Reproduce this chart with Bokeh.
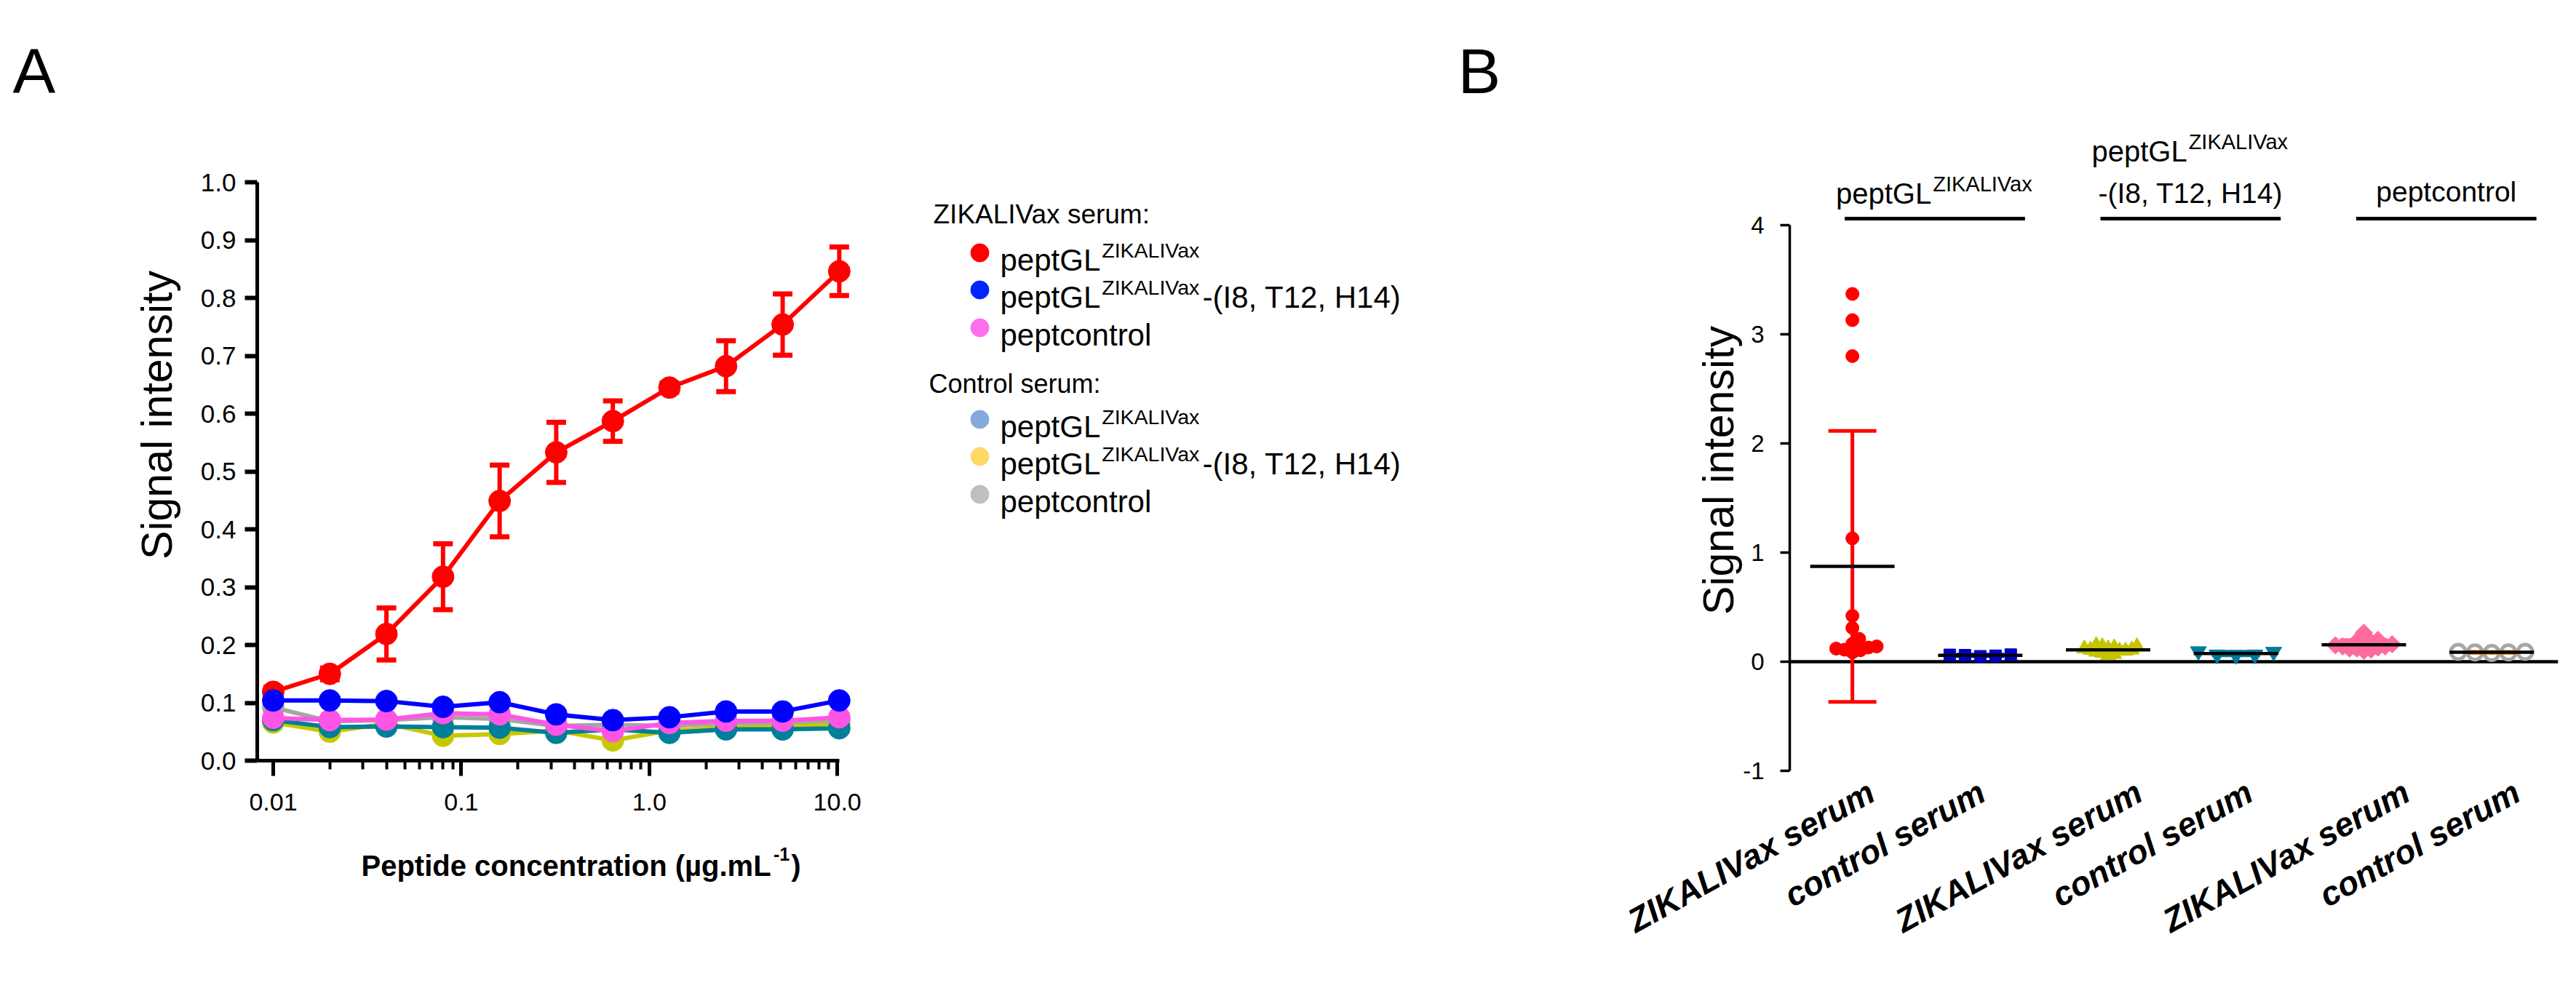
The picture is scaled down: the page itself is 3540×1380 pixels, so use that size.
import math
import numpy as np
from bokeh.plotting import figure
from bokeh.models import Range1d, FixedTicker, CustomJSTickFormatter, PrintfTickFormatter
from bokeh.layouts import row, column
from bokeh.core.properties import value
from bokeh.embed import file_html
from bokeh.resources import INLINE

FONT = "Liberation Sans"

# ---------------- Panel A data ----------------
conc = [0.01, 0.02, 0.04, 0.08, 0.16, 0.32, 0.64, 1.28, 2.56, 5.12, 10.24]
zik_peptGL = [0.119, 0.150, 0.219, 0.318, 0.449, 0.533, 0.587, 0.645, 0.682, 0.754, 0.846]
zik_peptGL_err = [0.008, 0.010, 0.045, 0.057, 0.062, 0.052, 0.035, 0.008, 0.044, 0.053, 0.042]
zik_mut = [0.104, 0.104, 0.103, 0.093, 0.101, 0.080, 0.070, 0.075, 0.085, 0.085, 0.104]
zik_ctrl = [0.074, 0.070, 0.071, 0.082, 0.080, 0.062, 0.051, 0.065, 0.069, 0.069, 0.075]
ctl_peptGL = [0.070, 0.058, 0.059, 0.058, 0.057, 0.048, 0.054, 0.048, 0.054, 0.054, 0.056]
ctl_mut = [0.066, 0.050, 0.064, 0.043, 0.046, 0.052, 0.035, 0.052, 0.058, 0.059, 0.064]
ctl_ctrl = [0.092, 0.068, 0.070, 0.075, 0.072, 0.060, 0.062, 0.060, 0.065, 0.066, 0.070]
x_major = [0.01, 0.1, 1.0, 10.0]
x_minor = [0.02, 0.03, 0.04, 0.05, 0.06, 0.07, 0.08, 0.09,
           0.2, 0.3, 0.4, 0.5, 0.6, 0.7, 0.8, 0.9,
           2, 3, 4, 5, 6, 7, 8, 9]
y_ticks_a = [0.0, 0.1, 0.2, 0.3, 0.4, 0.5, 0.6, 0.7, 0.8, 0.9, 1.0]

# ---------------- Panel B data ----------------
b_labels = ["ZIKALIVax serum", "control serum", "ZIKALIVax serum",
            "control serum", "ZIKALIVax serum", "control serum"]
b_g1 = [3.37, 3.13, 2.80, 1.13, 0.42, 0.31, 0.21, 0.165, 0.14, 0.13, 0.12, 0.11, 0.105, 0.085]
b_g2 = [0.065, 0.060, 0.050, 0.055, 0.063]
b_g3 = [0.15, 0.14, 0.14, 0.13, 0.12, 0.12, 0.11, 0.11, 0.10, 0.10, 0.09, 0.08, 0.07, 0.06]
b_g4 = [0.095, 0.065, 0.060, 0.065, 0.090]
b_g5 = [0.265, 0.20, 0.19, 0.18, 0.17, 0.16, 0.15, 0.14, 0.14, 0.13, 0.12, 0.12, 0.11, 0.10]
b_g6 = [0.090, 0.085, 0.080, 0.085, 0.090]
b_groups = [b_g1, b_g2, b_g3, b_g4, b_g5, b_g6]
b_ticks = [-1, 0, 1, 2, 3, 4]

# ---------------- text metrics (Arial / Liberation Sans) ----------------
W_REG = {' ': 278, '(': 333, ')': 333, ',': 278, '-': 333, '.': 278, ':': 278,
         '1': 556, '2': 556, '4': 556, '8': 556,
         'A': 667, 'C': 722, 'G': 778, 'H': 722, 'I': 278, 'K': 667, 'L': 556,
         'T': 611, 'V': 667, 'Z': 611, 'S': 667,
         'a': 556, 'c': 500, 'e': 556, 'l': 222, 'm': 833, 'n': 556, 'o': 556,
         'p': 556, 'r': 333, 's': 500, 't': 278, 'u': 556, 'x': 500, 'g': 556,
         'i': 222, 'y': 500}
W_BOLD = {' ': 278, '(': 333, ')': 333, '.': 278, '-': 333, '1': 556, 'P': 667,
          'L': 611, 'a': 556, 'c': 556, 'd': 611, 'e': 556, 'g': 611, 'i': 278,
          'm': 889, 'n': 611, 'o': 611, 'p': 611, 'r': 389, 't': 333, '\u00b5': 611}


def text_width(s, size, bold=False):
    tbl = W_BOLD if bold else W_REG
    return sum(tbl.get(ch, 556) for ch in s) * size / 1000.0


def rich(fig, x, y, parts, bold=False, align="left", sx=1.0, sy=1.0, gap=2.0, color="black"):
    widths = [text_width(t, s, bold) for t, s, r in parts]
    total = sum(widths) + gap * (len(parts) - 1)
    cur = x - total / 2.0 * sx if align == "center" else x
    for (t, s, r), w in zip(parts, widths):
        fig.text(x=[cur], y=[y + r * sy], text=[t], text_font=value(FONT),
                 text_font_size=value(f"{s}px"),
                 text_font_style="bold" if bold else "normal",
                 text_align="left", text_baseline="alphabetic", text_color=color)
        cur += (w + gap) * sx


def canvas(w, h, xr, yr, bl=0, br=0):
    p = figure(width=w, height=h, x_range=Range1d(*xr), y_range=Range1d(*yr),
               output_backend="svg", toolbar_location=None,
               min_border_left=bl, min_border_right=br, min_border_top=0, min_border_bottom=0,
               x_axis_type=None, y_axis_type=None)
    p.title.visible = False
    p.outline_line_color = None
    return p

# ================= Panel A =================
figA = figure(width=988, height=1147, x_axis_type="log",
              x_range=Range1d(0.008222, 13.28), y_range=Range1d(0, 1.0),
              output_backend="svg", toolbar_location=None,
              min_border_left=101, min_border_right=58, min_border_top=250, min_border_bottom=102)
figA.title.visible = False
figA.grid.visible = False
figA.outline_line_color = None

xa = figA.xaxis[0]
xa.ticker = FixedTicker(ticks=x_major, minor_ticks=x_minor)
xa.formatter = CustomJSTickFormatter(code="return tick < 0.05 ? tick.toFixed(2) : tick.toFixed(1);")
xa.bounds = (0.008222, 10.3)
xa.axis_line_width = 5
xa.major_tick_line_width = 5
xa.minor_tick_line_width = 4
xa.major_tick_out = 21
xa.major_tick_in = 0
xa.minor_tick_out = 12
xa.minor_tick_in = 0
xa.major_label_standoff = 24
xa.major_label_text_font = FONT
xa.major_label_text_font_size = "34px"
xa.major_label_text_color = "black"

ya = figA.yaxis[0]
ya.ticker = FixedTicker(ticks=y_ticks_a)
ya.formatter = PrintfTickFormatter(format="%.1f")
ya.axis_line_width = 5
ya.major_tick_line_width = 6
ya.major_tick_out = 17
ya.major_tick_in = 0
ya.minor_tick_out = 0
ya.minor_tick_in = 0
ya.major_label_standoff = 12
ya.major_label_text_font = FONT
ya.major_label_text_font_size = "35px"
ya.major_label_text_color = "black"

MS = 30
LW = 6


def series(vals, color):
    figA.line(conc, vals, line_color=color, line_width=LW)
    figA.scatter(conc, vals, size=MS, marker="circle", fill_color=color, line_color=color)

series(ctl_mut, "#C8C800")
series(ctl_ctrl, "#A6A6A6")
series(ctl_peptGL, "#007F99")
figA.line(conc, zik_peptGL, line_color="#FF0000", line_width=LW)
lo = [v - e for v, e in zip(zik_peptGL, zik_peptGL_err)]
hi = [v + e for v, e in zip(zik_peptGL, zik_peptGL_err)]
figA.segment(x0=conc, y0=lo, x1=conc, y1=hi, line_color="#FF0000", line_width=6)
figA.scatter(conc, lo, marker="dash", size=27, line_color="#FF0000", line_width=7)
figA.scatter(conc, hi, marker="dash", size=27, line_color="#FF0000", line_width=7)
figA.scatter(conc, zik_peptGL, size=MS, marker="circle", fill_color="#FF0000", line_color="#FF0000")
series(zik_ctrl, "#FF55E6")
series(zik_mut, "#0000FF")

# ---- canvas left of A: panel letter + y title (page coordinates, y negated) ----
C1 = canvas(252, 1364, (8, 260), (-1372, -8))
C1.text(x=[25], y=[-105], text=["A"], text_font=value(FONT), text_font_size=value("88px"),
        text_align="left", text_baseline="alphabetic", text_color="black")
C1.text(x=[223], y=[-578], text=["Signal intensity"], text_font=value(FONT),
        text_font_size=value("59px"), angle=math.pi / 2, text_align="center",
        text_baseline="alphabetic", text_color="black")

# ---- canvas below A: x title (same horizontal borders as A) ----
C2 = canvas(988, 217, (361, 1190), (-1372, -1155), bl=101, br=58)
rich(C2, 504, -1197, [("Peptide concentration (\u00b5g.mL", 40, 0), ("-1", 25, 16), (")", 40, 0)], bold=True)

# ---- canvas middle: legend + panel B letter ----
C3 = canvas(952, 1364, (1248, 2200), (-1372, -8))
C3.text(x=[1290], y=[-302], text=["ZIKALIVax serum:"], text_font=value(FONT),
        text_font_size=value("37px"), text_align="left", text_baseline="alphabetic")
C3.text(x=[1284], y=[-535], text=["Control serum:"], text_font=value(FONT),
        text_font_size=value("36px"), text_align="left", text_baseline="alphabetic")
leg_colors = ["#FF0000", "#0026FF", "#FF6EF0", "#82AADC", "#FFD966", "#BFBFBF"]
leg_base = [365, 416, 468, 594, 645, 697]
leg_parts = [
    [("peptGL", 42, 0), ("ZIKALIVax", 28.5, 14)],
    [("peptGL", 42, 0), ("ZIKALIVax", 28.5, 14), ("-(I8, T12, H14)", 42, 0)],
    [("peptcontrol", 42, 0)],
] * 2
for c, b, parts in zip(leg_colors, leg_base, leg_parts):
    C3.scatter([1354], [-(b - 10)], marker="circle", size=25, fill_color=c, line_color=c)
    rich(C3, 1382, -b, parts)
C3.text(x=[2011], y=[-105], text=["B"], text_font=value(FONT), text_font_size=value("88px"),
        text_align="left", text_baseline="alphabetic")

# ================= Panel B =================
PXX = 175.7          # px per category
PXY = 150.0          # px per unit
AX_X = 0.51          # data x where the y axis stands
XR = (AX_X - (2467 - 2200) / PXX, 6.52)
YR = (-1.0 - (1372 - 1067) / PXY, 4.0 + (317 - 8) / PXY)
figB = figure(width=1332, height=1364, x_range=Range1d(*XR), y_range=Range1d(*YR),
              output_backend="svg", toolbar_location=None, x_axis_location=None,
              min_border_left=0, min_border_right=9, min_border_top=0, min_border_bottom=0)
figB.title.visible = False
figB.grid.visible = False
figB.outline_line_color = None

yb = figB.yaxis[0]
yb.fixed_location = AX_X
yb.ticker = FixedTicker(ticks=b_ticks)
yb.formatter = CustomJSTickFormatter(code="return tick.toFixed(0);")
yb.bounds = (-1, 4)
yb.axis_line_width = 3.5
yb.major_tick_line_width = 3.5
yb.major_tick_out = 13
yb.major_tick_in = 0
yb.minor_tick_out = 0
yb.minor_tick_in = 0
yb.major_label_standoff = 22
yb.major_label_text_font = FONT
yb.major_label_text_font_size = "33px"
yb.major_label_text_color = "black"

# y title of panel B
figB.text(x=[AX_X + (2369 - 2467) / PXX], y=[(916 - 653) / PXY], text=["Signal intensity"],
          text_font=value(FONT), text_font_size=value("59px"), angle=math.pi / 2,
          text_align="center", text_baseline="alphabetic", text_color="black")

# zero line
figB.segment(x0=[AX_X], y0=[0], x1=[XR[1]], y1=[0], line_color="black", line_width=4.5)


def swarm(vals, dist):
    ys = np.asarray(vals, dtype=float) * PXY
    order = np.argsort(ys, kind="stable")
    placed = []
    offs = np.zeros(len(ys))
    for i in order:
        y = ys[i]
        cands = [0.0]
        for (px, py) in placed:
            dy = abs(py - y)
            if dy < dist:
                h = math.sqrt(dist * dist - dy * dy)
                cands += [px + h + 0.01, px - h - 0.01]
        cands.sort(key=lambda c: (abs(c), -c))
        for c in cands:
            if all((c - px) ** 2 + (y - py) ** 2 >= dist * dist - 1e-6 for px, py in placed):
                offs[i] = c
                break
        placed.append((offs[i], y))
    return offs / PXX

pt_style = [
    dict(marker="circle", size=18, fill_color="#FF0000", line_color="#FF0000", dist=11.5),
    dict(marker="square", size=16, fill_color="#0000C8", line_color="#0000C8", dist=21),
    dict(marker="triangle", size=21, fill_color="#C4C400", line_color="#C4C400", dist=8.5),
    dict(marker="inverted_triangle", size=22, fill_color="#007B9A", line_color="#007B9A", dist=26),
    dict(marker="square", size=17, fill_color="#FF6B9C", line_color="#FF6B9C", dist=10, angle=math.pi / 4),
    dict(marker="circle", size=20, fill_color=None, line_color="#A6A6A6", dist=23, line_width=5),
]
err_colors = ["#FF0000", "#0000C8", "#C4C400", "#007B9A", "#FF6B9C", "#E07000"]

for k, (vals, st) in enumerate(zip(b_groups, pt_style)):
    xc = k + 1
    st = dict(st)
    dist = st.pop("dist")
    xs = xc + swarm(vals, dist)
    figB.scatter(list(xs), vals, **st)
    m = float(np.mean(vals))
    sd = float(np.std(vals, ddof=1))
    figB.segment(x0=[xc], y0=[m - sd], x1=[xc], y1=[m + sd], line_color=err_colors[k], line_width=5)
    figB.scatter([xc, xc], [m - sd, m + sd], marker="dash", size=66, line_color=err_colors[k], line_width=5)
    figB.scatter([xc], [m], marker="dash", size=116, line_color="black", line_width=4.5)

# category labels (rotated, right-aligned) below the axis
for k, lab in enumerate(b_labels):
    dx_px = 26.5 + 8.1 * k - 32 * (k % 2)
    figB.text(x=[k + 1 + dx_px / PXX], y=[-1.17], text=[lab], text_font=value(FONT),
              text_font_size=value("46px"), text_font_style="bold italic",
              angle=math.radians(29), text_align="right", text_baseline="alphabetic",
              text_color="black")

# group header bars and labels above panel B
bar_y = 4.06
for j in range(3):
    left = 2 * j + 1 - 0.06
    right = 2 * j + 2 + 0.35
    figB.segment(x0=[left], y0=[bar_y], x1=[right], y1=[bar_y], line_color="black", line_width=5)
centers = [2 * j + 1.5 + 0.145 for j in range(3)]
rich(figB, centers[0], 4.293, [("peptGL", 40, 0), ("ZIKALIVax", 29, 13)], align="center", sx=1 / PXX, sy=1 / PXY)
rich(figB, centers[1], 4.68, [("peptGL", 40, 0), ("ZIKALIVax", 29, 13)], align="center", sx=1 / PXX, sy=1 / PXY)
rich(figB, centers[1], 4.293, [("-(I8, T12, H14)", 39, 0)], align="center", sx=1 / PXX, sy=1 / PXY)
rich(figB, centers[2], 4.307, [("peptcontrol", 39, 0)], align="center", sx=1 / PXX, sy=1 / PXY)

layout = row(C1, column(figA, C2), C3, figB)
open("out.html", "w").write(file_html(layout, INLINE))
